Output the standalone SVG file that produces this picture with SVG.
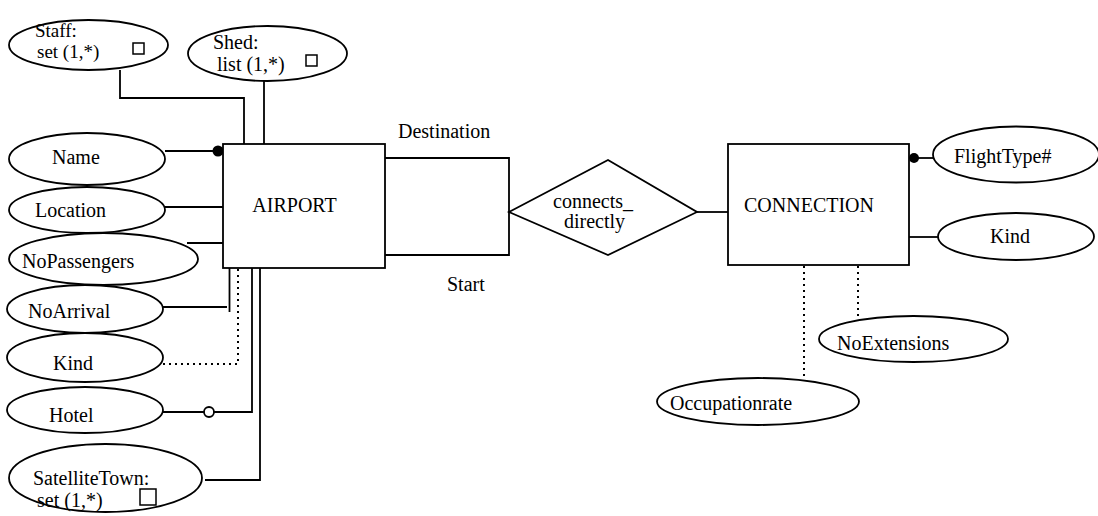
<svg xmlns="http://www.w3.org/2000/svg" width="1098" height="516" viewBox="0 0 1098 516">
  <style>
    .shape { fill: #fff; stroke: #000; stroke-width: 1.8; }
    .line { fill: none; stroke: #000; stroke-width: 1.8; }
    .dot { fill: none; stroke: #000; stroke-width: 2; stroke-dasharray: 2 4; }
    .box { fill: none; stroke: #000; stroke-width: 1.5; }
    text { font-family: "Liberation Serif", "Times New Roman", serif; font-size: 20px; fill: #000; }
    .small { font-size: 19px; }
  </style>
  <rect width="1098" height="516" fill="#fff"/>

  <!-- connectors -->
  <g id="connectors">
    <polyline class="line" points="120,70 120,98 244,98 244,144"/>
    <line class="line" x1="264" y1="81" x2="264" y2="144"/>
    <line class="line" x1="165" y1="151" x2="218" y2="151"/>
    <circle cx="218" cy="151" r="5.5" fill="#000"/>
    <line class="line" x1="165" y1="207" x2="223" y2="207"/>
    <line class="line" x1="187" y1="243" x2="223" y2="243"/>
    <line class="line" x1="163" y1="307" x2="227" y2="307"/>
    <line class="line" x1="229.5" y1="268" x2="229.5" y2="312"/>
    <polyline class="dot" points="238,269 238,364 163,364"/>
    <polyline class="line" points="163,412 252,412 252,268"/>
    <circle cx="209" cy="412" r="5" fill="#fff" stroke="#000" stroke-width="1.8"/>
    <polyline class="line" points="205,480 260,480 260,268"/>
    <polyline class="line" points="385,158 509,158 509,255 385,255"/>
    <line class="line" x1="697" y1="212" x2="728" y2="212"/>
    <line class="line" x1="909" y1="158" x2="933" y2="158"/>
    <circle cx="914" cy="158" r="5" fill="#000"/>
    <line class="line" x1="909" y1="237" x2="938" y2="237"/>
    <line class="dot" x1="858" y1="266" x2="858" y2="317"/>
    <line class="dot" x1="804" y1="266" x2="804" y2="376"/>
  </g>

  <!-- role labels on the two AIRPORT links -->
  <text x="398" y="138">Destination</text>
  <text x="447" y="291">Start</text>

  <!-- entities -->
  <g id="airport">
    <rect class="shape" x="223" y="144" width="162" height="124"/>
    <text x="294.5" y="212" text-anchor="middle">AIRPORT</text>
  </g>
  <g id="connection">
    <rect class="shape" x="728" y="144" width="181" height="121"/>
    <text x="809" y="212" text-anchor="middle">CONNECTION</text>
  </g>

  <!-- relationship -->
  <g id="connects_directly">
    <polygon class="shape" points="509,212 608,160 697,212 608,255"/>
    <text x="593" y="208" text-anchor="middle">connects_</text>
    <text x="594.5" y="228" text-anchor="middle">directly</text>
  </g>

  <!-- AIRPORT attributes -->
  <g id="attr-staff">
    <ellipse class="shape" cx="88.5" cy="45" rx="79.5" ry="25"/>
    <text class="small" x="35" y="37">Staff:</text>
    <text class="small" x="37" y="58">set (1,*)</text>
    <rect class="box" x="133" y="43" width="11" height="11"/>
  </g>
  <g id="attr-shed">
    <ellipse class="shape" cx="267.5" cy="53.5" rx="79.5" ry="27.5"/>
    <text x="213" y="49">Shed:</text>
    <text x="217" y="71">list (1,*)</text>
    <rect class="box" x="306" y="55" width="11" height="11"/>
  </g>
  <g id="attr-name">
    <ellipse class="shape" cx="87" cy="159" rx="78" ry="26"/>
    <text x="52" y="164">Name</text>
  </g>
  <g id="attr-location">
    <ellipse class="shape" cx="87" cy="210" rx="78" ry="23"/>
    <text x="35" y="217">Location</text>
  </g>
  <g id="attr-nopassengers">
    <ellipse class="shape" cx="103.5" cy="259" rx="94.5" ry="26"/>
    <text x="22" y="268">NoPassengers</text>
  </g>
  <g id="attr-noarrival">
    <ellipse class="shape" cx="85" cy="309" rx="78" ry="24"/>
    <text x="28" y="318">NoArrival</text>
  </g>
  <g id="attr-kind-airport">
    <ellipse class="shape" cx="85" cy="357.5" rx="78" ry="24.5"/>
    <text x="53" y="370">Kind</text>
  </g>
  <g id="attr-hotel">
    <ellipse class="shape" cx="85" cy="410" rx="78" ry="23"/>
    <text x="49" y="422">Hotel</text>
  </g>
  <g id="attr-satellitetown">
    <ellipse class="shape" cx="105.5" cy="478" rx="96.5" ry="34"/>
    <text x="33" y="485">SatelliteTown:</text>
    <text x="37" y="507">set (1,*)</text>
    <rect class="box" x="140" y="489" width="16" height="16"/>
  </g>

  <!-- CONNECTION attributes -->
  <g id="attr-flighttype">
    <ellipse class="shape" cx="1016" cy="154.5" rx="83" ry="28"/>
    <text x="954" y="163">FlightType#</text>
  </g>
  <g id="attr-kind-connection">
    <ellipse class="shape" cx="1016" cy="236.5" rx="78" ry="23.5"/>
    <text x="990" y="243">Kind</text>
  </g>
  <g id="attr-noextensions">
    <ellipse class="shape" cx="913.5" cy="339" rx="94.5" ry="23"/>
    <text x="837" y="350">NoExtensions</text>
  </g>
  <g id="attr-occupationrate">
    <ellipse class="shape" cx="758" cy="401.5" rx="101" ry="23.5"/>
    <text x="670" y="410">Occupationrate</text>
  </g>
</svg>
